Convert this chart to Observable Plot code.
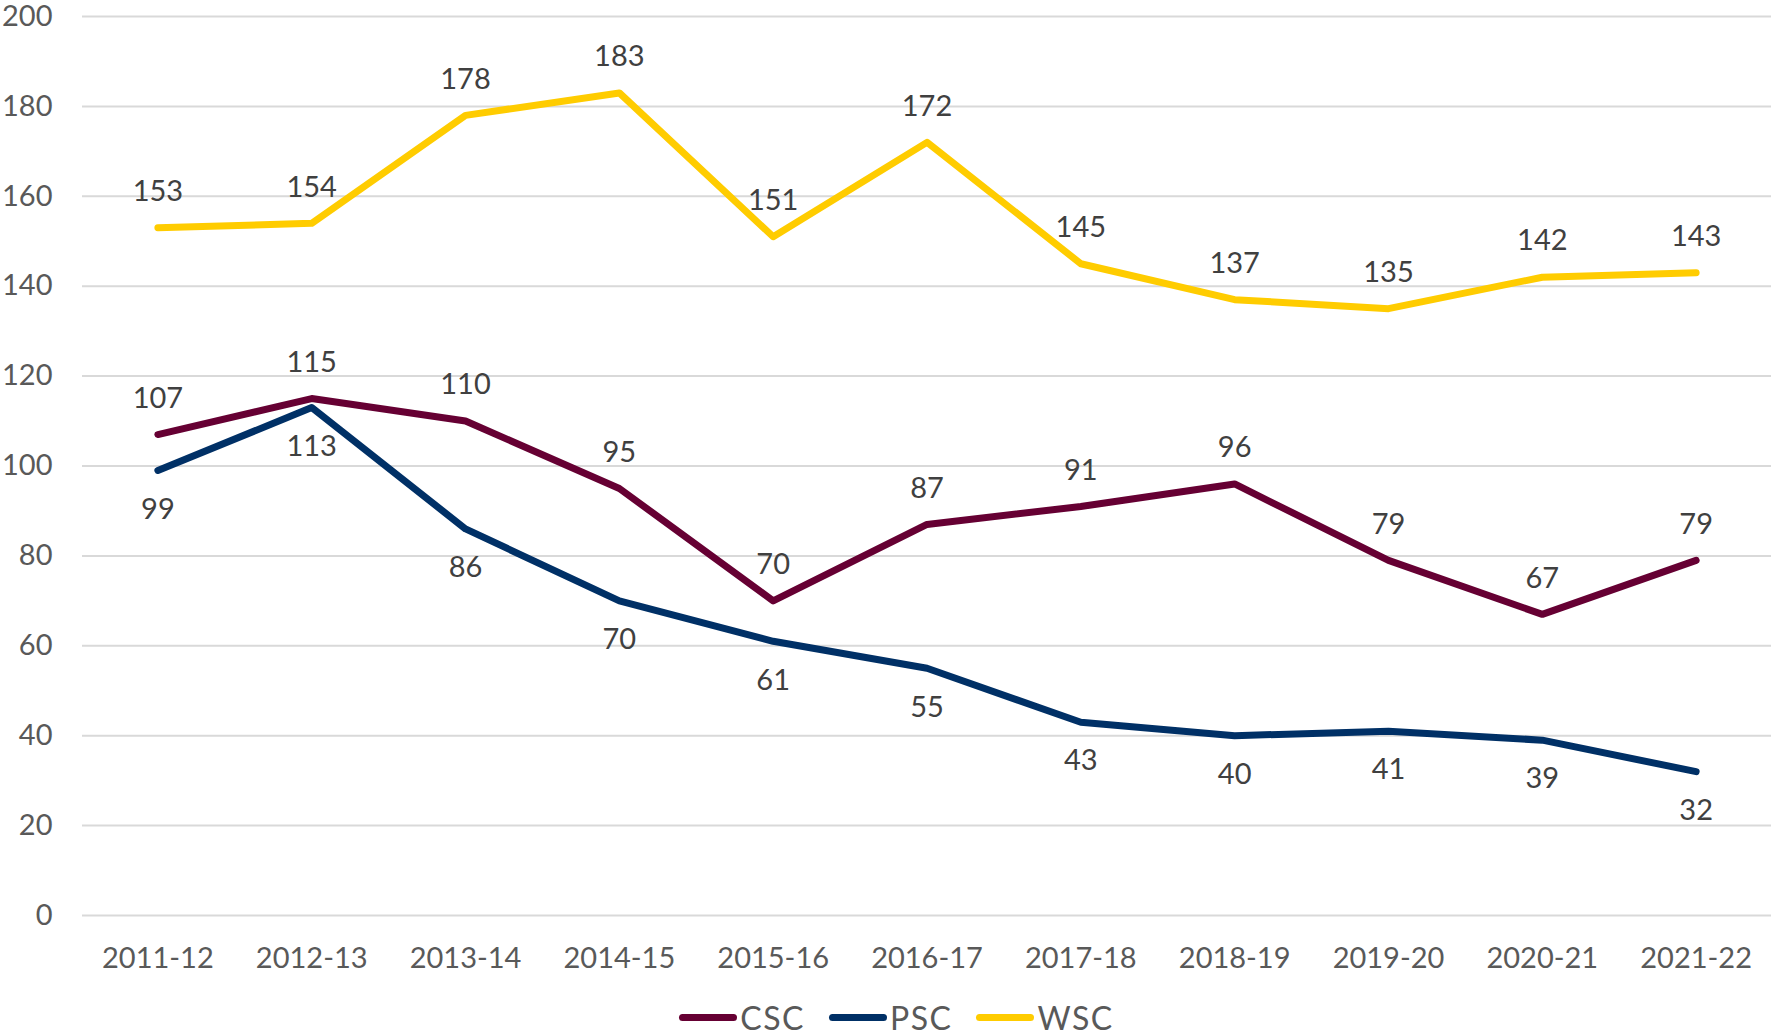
<!DOCTYPE html>
<html>
<head>
<meta charset="utf-8">
<script src="https://cdn.jsdelivr.net/npm/d3@7"></script>
<script src="https://cdn.jsdelivr.net/npm/@observablehq/plot@0.6"></script>
<style>
  html, body { margin: 0; padding: 0; background: #fff; }
  body { width: 1771px; height: 1035px; overflow: hidden; font-family: Lato, "Noto Sans", sans-serif; }
  #legend { display: flex; justify-content: center; align-items: center; height: 50px; margin-top: 7px; padding-left: 22px; gap: 24px; font-size: 32px; letter-spacing: 1.5px; color: #595959; }
  .item { display: flex; align-items: center; gap: 3px; }
  .sw { width: 58px; height: 7px; border-radius: 4px; }
</style>
</head>
<body>
<div id="chart"></div>
<div id="legend"></div>
<script>
const years = ["2011-12","2012-13","2013-14","2014-15","2015-16","2016-17","2017-18","2018-19","2019-20","2020-21","2021-22"];
const seriesNames = ["CSC","PSC","WSC"];
const seriesColors = ["#660033","#003066","#FFCC00"];
const CSC = [107,115,110,95,70,87,91,96,79,67,79];
const PSC = [99,113,86,70,61,55,43,40,41,39,32];
const WSC = [153,154,178,183,151,172,145,137,135,142,143];
const yTicks = [0,20,40,60,80,100,120,140,160,180,200];

const values = {CSC, PSC, WSC};
const data = seriesNames.flatMap(s => years.map((y, i) => ({series: s, year: y, value: values[s][i]})));

const chart = Plot.plot({
  width: 1771,
  height: 985,
  marginLeft: 82,
  marginRight: 0,
  marginTop: 16,
  marginBottom: 70,
  style: {fontFamily: "Lato, 'Noto Sans', sans-serif", color: "#595959", background: "#fff", overflow: "visible"},
  x: {type: "point", domain: years, padding: 0.49, round: false},
  y: {domain: [0, 200]},
  color: {domain: seriesNames, range: seriesColors},
  marks: [
    Plot.ruleY(yTicks, {stroke: "#d9d9d9", strokeWidth: 2}),
    Plot.axisY({ticks: yTicks, tickSize: 0, tickPadding: 30, fontSize: 29, label: null, fill: "#595959"}),
    Plot.axisX({tickSize: 0, tickPadding: 32, fontSize: 29, label: null, fill: "#595959"}),
    Plot.line(data, {x: "year", y: "value", z: "series", stroke: "series", strokeWidth: 7, strokeLinecap: "round", strokeLinejoin: "round"}),
    Plot.text(data.filter(d => d.series !== "PSC"), {x: "year", y: "value", text: d => String(d.value), dy: -36, fontSize: 29, fill: "#404040"}),
    Plot.text(data.filter(d => d.series === "PSC"), {x: "year", y: "value", text: d => String(d.value), dy: 39, fontSize: 29, fill: "#404040"})
  ]
});
document.getElementById("chart").appendChild(chart);

const legend = document.getElementById("legend");
seriesNames.forEach((s, i) => {
  const item = document.createElement("div");
  item.className = "item";
  const sw = document.createElement("span");
  sw.className = "sw";
  sw.style.background = seriesColors[i];
  const t = document.createElement("span");
  t.textContent = s;
  item.appendChild(sw);
  item.appendChild(t);
  legend.appendChild(item);
});
</script>
</body>
</html>
